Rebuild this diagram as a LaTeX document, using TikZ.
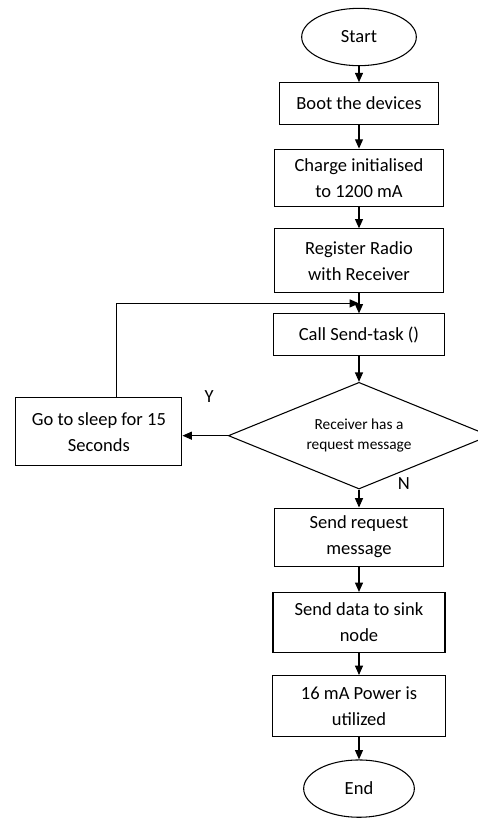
\documentclass[tikz,border=0pt]{standalone}
\usepackage{fontspec}
\setmainfont{Carlito}
\usetikzlibrary{arrows.meta,positioning,shapes.geometric,calc}

\begin{document}
\begin{tikzpicture}[
  node distance=16pt,
  every node/.style={font=\fontsize{13.9}{19.5}\selectfont},
  proc/.style={rectangle, draw, line width=0.8pt, align=center,
    minimum width=127pt, minimum height=31pt, inner sep=3pt},
  two/.style={minimum height=46pt},
  term/.style={ellipse, draw, line width=0.8pt, minimum width=86pt, minimum height=43pt},
  dec/.style={diamond, aspect=2.45, draw, line width=0.8pt, align=center, minimum width=196pt,
    minimum height=80pt, inner sep=0pt, font=\fontsize{11.5}{15}\selectfont},
  arr/.style={-{Triangle[length=7pt,width=6pt]}, line width=0.8pt},
  lbl/.style={inner sep=0pt},
]
\useasboundingbox (0,0) rectangle (358.5pt,-614.25pt);
\clip (0,0) rectangle (358.5pt,-614.25pt);
\node[term] (start) at (269.25pt,-27.75pt) {Start};
\node[proc, minimum width=119pt, below=12pt of start] (boot) {Boot the devices};
\node[proc, two, minimum height=43pt, below=18pt of boot] (charge) {Charge initialised\\to 1200 mA};
\node[proc, two, minimum height=48pt, below=16pt of charge] (reg) {Register Radio\\with Receiver};
\node[proc, minimum width=128pt, below=15pt of reg] (call) {Call Send-task ()};
\node[dec, below=19.5pt of call] (check) {Receiver has a\\request message};
\node[proc, minimum width=124.5pt, minimum height=51pt, left=34pt of check, yshift=3pt] (sleep) {Go to sleep for 15\\Seconds};
\node[proc, two, minimum height=43.5pt, below=13.5pt of check] (sendreq) {Send request\\message};
\node[proc, two, minimum width=129pt, minimum height=45pt, below=19pt of sendreq] (senddata) {Send data to sink\\node};
\node[proc, two, minimum width=130pt, below=16.5pt of senddata] (power) {16 mA Power is\\utilized};
\node[term, minimum width=83pt, below=16.5pt of power] (end) {End};
\node[lbl, above left=25pt and 10.5pt of check.west] (ylab) {Y};
\node[lbl, above right=0pt and 29pt of check.south] (nlab) {N};
\coordinate (join) at ($(reg.south)!0.5!(call.north)$);

\draw[arr] (start) -- (boot);
\draw[arr] (boot) -- (charge);
\draw[arr] (charge) -- (reg);
\draw[arr] (reg) -- (call);
\draw[arr] (call) -- (check);
\draw[arr] (check.west) -- (check.west -| sleep.east);
\draw[arr] ([xshift=13.5pt]sleep.north) |- (join);
\draw[arr] (check.south) -- (sendreq);
\draw[arr] (sendreq) -- (senddata);
\draw[arr] (senddata) -- (power);
\draw[arr] (power) -- (end);
\end{tikzpicture}
\end{document}
